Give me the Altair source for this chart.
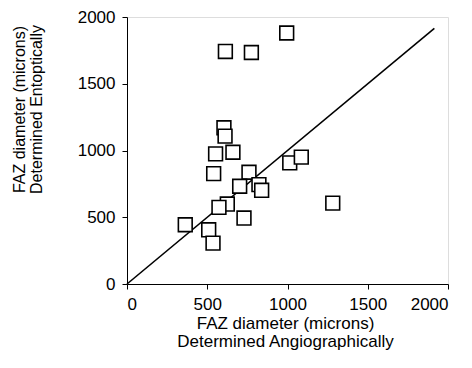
import altair as alt
import pandas as pd

# Data
angio = [995, 613, 775, 604, 611, 552, 660, 1014, 1086, 540, 760, 702, 822, 839,
         625, 573, 1282, 729, 363, 509, 536]
entopt = [1880, 1742, 1734, 1170, 1108, 975, 987, 907, 950, 827, 837, 732, 744, 702,
          599, 574, 606, 494, 444, 406, 306]
line_x = [0, 1915]
line_y = [0, 1915]
ticks = [0, 500, 1000, 1500, 2000]

pts = pd.DataFrame({"x": angio, "y": entopt})
ln = pd.DataFrame({"x": line_x, "y": line_y})

FONT = "Liberation Sans"
W, H = 321, 267

xscale = alt.Scale(domain=[0, 2000], nice=False, zero=True)
yscale = alt.Scale(domain=[0, 2000], nice=False, zero=True)

xaxis = alt.Axis(values=ticks, format="d", grid=False, domainColor="black", tickColor="black",
                 tickSize=5, labelFontSize=17, labelFont=FONT, labelColor="black",
                 labelPadding=7, title=["FAZ diameter (microns)", "Determined Angiographically"],
                 titleFont=FONT, titleFontSize=17, titleFontWeight="normal", titleColor="black",
                 titleX=158, titleY=39, titleBaseline="middle", titleAlign="center",
                 titleLineHeight=18)
yaxis = alt.Axis(values=ticks, format="d", grid=False, domainColor="black", tickColor="black",
                 tickSize=5, labelFontSize=17, labelFont=FONT, labelColor="black",
                 labelPadding=7, title=["FAZ diameter (microns)", "Determined Entoptically"],
                 titleFont=FONT, titleFontSize=16, titleFontWeight="normal", titleColor="black",
                 titleX=-108, titleY=92, titleAngle=-90, titleBaseline="middle",
                 titleAlign="center", titleLineHeight=17)

line = alt.Chart(ln).mark_line(color="black", strokeWidth=1.6).encode(
    x=alt.X("x:Q", scale=xscale, axis=xaxis),
    y=alt.Y("y:Q", scale=yscale, axis=yaxis),
)
points = alt.Chart(pts).mark_point(shape="square", size=190, filled=True, fill="white",
                                   stroke="black", strokeWidth=1.6, opacity=1).encode(
    x=alt.X("x:Q", scale=xscale),
    y=alt.Y("y:Q", scale=yscale),
)

chart = alt.layer(line, points).properties(
    width=W, height=H,
    autosize=alt.AutoSizeParams(type="none"),
    padding={"left": 119, "top": 9, "right": 8, "bottom": 76},
).configure_view(stroke=None).configure(background="white")

chart.save("out.html", embed_options={"renderer": "svg", "actions": False})
